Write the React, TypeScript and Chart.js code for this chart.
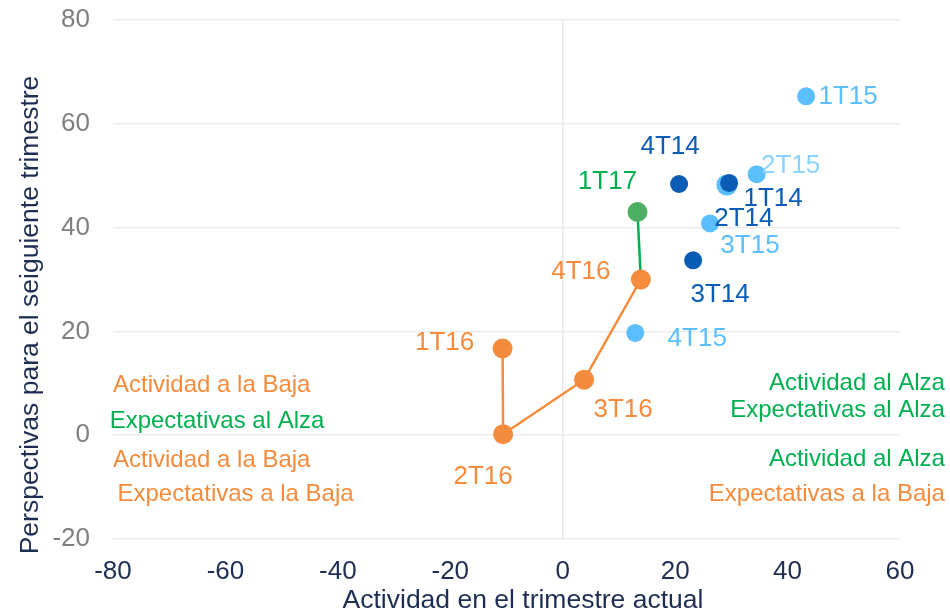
import React, { useEffect, useRef } from "react";
import { Chart, registerables } from "chart.js";

Chart.register(...registerables);

// ---- Data ----
const labels2014 = ["2T14", "1T14", "3T14", "4T14"];
const x2014 = [29.2, 29.6, 23.2, 20.7];
const y2014 = [48.2, 48.6, 33.7, 48.4];

const labels2015 = ["1T15", "2T15", "3T15", "4T15"];
const x2015 = [43.3, 34.5, 26.2, 12.9];
const y2015 = [65.3, 50.3, 40.8, 19.7];

const labels2016 = ["1T16", "2T16", "3T16", "4T16"];
const x2016 = [-10.7, -10.6, 3.8, 13.9];
const y2016 = [16.7, 0.2, 10.7, 30.0];

const labels2017 = ["4T16", "1T17"];
const x2017 = [13.9, 13.3];
const y2017 = [30.0, 43.0];

const xTitle = "Actividad en el trimestre actual";
const yTitle = "Perspectivas para el seiguiente trimestre";

const noteTexts = [
  "Actividad a la Baja",
  "Expectativas al Alza",
  "Actividad a la Baja",
  "Expectativas a la Baja",
  "Actividad al Alza",
  "Expectativas al Alza",
  "Actividad al Alza",
  "Expectativas a la Baja",
];
const noteX = [-80, -80.6, -80, -79.2, 68, 68, 68, 68];
const noteY = [9.9, 3.0, -4.5, -11.1, 10.3, 5.1, -4.2, -11.1];

// ---- Styles ----
const FONT = "'Liberation Sans', Arial, sans-serif";
const NAVY = "#1E2E52";
const DARK_BLUE = "#0A5CB4";
const LIGHT_BLUE = "#5BBEFF";
const LIGHT_BLUE_TEXT = "#8AD3FF";
const ORANGE = "#F58B3C";
const GREEN = "#00B050";
const GREEN_POINT = "#4CAF63";

const noteColors = [ORANGE, GREEN, ORANGE, ORANGE, GREEN, GREEN, GREEN, ORANGE];
const noteAlign: CanvasTextAlign[] = ["left", "left", "left", "left", "right", "right", "right", "right"];

// label offsets (px) relative to the point centre, and colours
const labelOffsets: Record<string, [number, number]> = {
  "1T14": [44, 16],
  "2T14": [17, 34],
  "3T14": [27, 35],
  "4T14": [-9, -37],
  "1T15": [42, 1],
  "2T15": [34, -8],
  "3T15": [40, 22],
  "4T15": [62, 6],
  "1T16": [-58, -6],
  "2T16": [-20, 43],
  "3T16": [39, 30],
  "4T16": [-60, -8],
  "1T17": [-30, -30],
};
const labelColors: Record<string, string> = {
  "1T14": DARK_BLUE,
  "2T14": DARK_BLUE,
  "3T14": DARK_BLUE,
  "4T14": DARK_BLUE,
  "1T15": LIGHT_BLUE,
  "2T15": LIGHT_BLUE_TEXT,
  "3T15": LIGHT_BLUE,
  "4T15": LIGHT_BLUE,
  "1T16": ORANGE,
  "2T16": ORANGE,
  "3T16": ORANGE,
  "4T16": ORANGE,
  "1T17": GREEN,
};

const toPts = (xs: number[], ys: number[]) => xs.map((x, i) => ({ x, y: ys[i] }));

const labelPlugin = {
  id: "pointLabels",
  afterDatasetsDraw(chart: any) {
    const ctx = chart.ctx;
    ctx.save();
    ctx.font = `26px ${FONT}`;
    ctx.textAlign = "center";
    ctx.textBaseline = "middle";
    chart.data.datasets.forEach((ds: any, di: number) => {
      const meta = chart.getDatasetMeta(di);
      const names: string[] = ds.pointNames || [];
      meta.data.forEach((el: any, i: number) => {
        const name = names[i];
        if (!name || ds.skipLabel?.[i]) return;
        const off = labelOffsets[name] || [0, 0];
        ctx.fillStyle = labelColors[name] || "#000";
        ctx.fillText(name, el.x + off[0], el.y + off[1]);
      });
    });
    // quadrant notes, placed in data coordinates
    const xs = chart.scales.x;
    const ys = chart.scales.y;
    ctx.font = `24px ${FONT}`;
    noteTexts.forEach((t, i) => {
      ctx.fillStyle = noteColors[i];
      ctx.textAlign = noteAlign[i];
      ctx.fillText(t, xs.getPixelForValue(noteX[i]), ys.getPixelForValue(noteY[i]) + 2);
    });
    // axis titles
    ctx.fillStyle = NAVY;
    ctx.font = `26.5px ${FONT}`;
    ctx.textAlign = "center";
    ctx.fillText(xTitle, 523, 601);
    ctx.translate(31, 315);
    ctx.rotate(-Math.PI / 2);
    ctx.fillText(yTitle, 0, 0);
    ctx.restore();
  },
};

export default function App() {
  const ref = useRef<HTMLCanvasElement | null>(null);

  useEffect(() => {
    if (!ref.current) return;
    Chart.defaults.font.family = FONT;
    const chart = new Chart(ref.current, {
      type: "scatter",
      data: {
        datasets: [
          {
            label: "2014",
            data: toPts(x2014, y2014),
            pointNames: labels2014,
            pointBackgroundColor: [LIGHT_BLUE, DARK_BLUE, DARK_BLUE, DARK_BLUE],
            pointBorderWidth: 0,
            pointRadius: [10.5, 9, 9, 9],
            showLine: false,
            order: 1,
          } as any,
          {
            label: "2015",
            data: toPts(x2015, y2015),
            pointNames: labels2015,
            pointBackgroundColor: LIGHT_BLUE,
            pointBorderWidth: 0,
            pointRadius: 9,
            showLine: false,
            order: 2,
          } as any,
          {
            label: "2017",
            data: toPts(x2017, y2017),
            pointNames: labels2017,
            skipLabel: [true, false],
            borderColor: GREEN,
            borderWidth: 2.5,
            pointBackgroundColor: GREEN_POINT,
            pointBorderWidth: 0,
            pointRadius: [0, 10],
            showLine: true,
            order: 3,
          } as any,
          {
            label: "2016",
            data: toPts(x2016, y2016),
            pointNames: labels2016,
            borderColor: ORANGE,
            borderWidth: 2.5,
            pointBackgroundColor: ORANGE,
            pointBorderWidth: 0,
            pointRadius: 10,
            showLine: true,
            order: 2.5,
          } as any,
        ],
      },
      options: {
        responsive: false,
        animation: false,
        layout: { padding: { left: 0, right: 50, top: 20, bottom: 0 } },
        plugins: { legend: { display: false }, tooltip: { enabled: false } },
        scales: {
          x: {
            type: "linear",
            min: -80,
            max: 60,
            ticks: { stepSize: 20, color: NAVY, font: { size: 26, family: FONT }, padding: 17 },
            grid: {
              color: (c: any) => (c.tick && c.tick.value === 0 ? "#E8E8E8" : "rgba(0,0,0,0)"),
              lineWidth: 1.5,
              drawTicks: false,
            },
            border: { display: false },
            afterFit: (s: any) => {
              s.height = 73;
              s.paddingLeft = 0;
              s.paddingRight = 0;
            },
          },
          y: {
            type: "linear",
            min: -20,
            max: 80,
            ticks: { stepSize: 20, color: "#7F7F7F", font: { size: 26, family: FONT }, padding: 23 },
            grid: { color: "#EBEBEB", lineWidth: 1.5, drawTicks: false },
            border: { display: false },
            afterFit: (s: any) => {
              s.width = 113;
              s.paddingTop = 0;
              s.paddingBottom = 0;
            },
          },
        },
      } as any,
      plugins: [labelPlugin],
    });
    return () => chart.destroy();
  }, []);

  return (
    <div style={{ position: "absolute", left: 0, top: 0, width: 950, height: 612, background: "#fff" }}>
      <canvas ref={ref} width={950} height={612} style={{ width: 950, height: 612 }} />
    </div>
  );
}
